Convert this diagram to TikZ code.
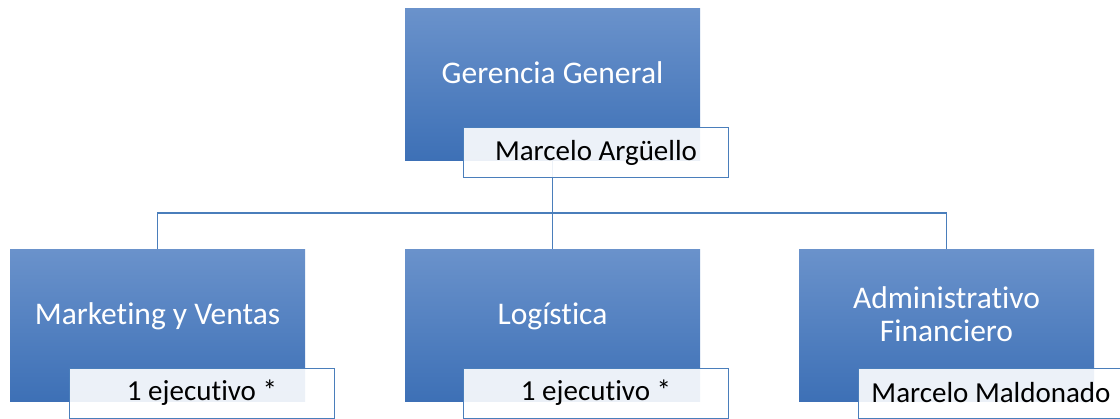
\documentclass[tikz,border=0pt]{standalone}
\usepackage{fontspec}
\setmainfont[Ligatures={NoCommon}]{Carlito}
\usetikzlibrary{positioning}
\definecolor{boxtop}{RGB}{106,146,203}
\definecolor{boxbot}{RGB}{61,112,182}
\definecolor{edge}{RGB}{74,126,187}

\begin{document}
\begin{tikzpicture}[x=1pt,y=-1pt,
  unit/.style={minimum width=295pt,minimum height=152pt,inner sep=0pt,
    top color=boxtop,bottom color=boxbot},
  title/.style={text=white,font=\fontsize{31.5}{33}\selectfont,align=center},
  tag/.style={draw=edge,line width=0.8pt,fill=white,fill opacity=0.9,
    text opacity=1,minimum width=265pt,minimum height=50pt,inner sep=0pt,
    font=\fontsize{29}{32}\selectfont},
  link/.style={draw=edge,line width=1.2pt}]
\useasboundingbox (0,0) rectangle (1120,419);
\clip (0,0) rectangle (1120,419);
% units
\node[unit] (gg) at (552.5,85) {};
\node[unit] (mv) at (157.5,325.5) {};
\node[unit] (log) at (552.5,325.5) {};
\node[unit] (adm) at (946.5,325.5) {};
\node[title,yshift=12pt] (gg-t) at (gg) {Gerencia General};
\node[title,yshift=9pt] (mv-t) at (mv) {Marketing y Ventas};
\node[title,yshift=9pt] (log-t) at (log) {Logística};
\node[title,yshift=11pt] (adm-t) at (adm) {Administrativo\\Financiero};
% lines
\coordinate (bus) at (552.5,213);
\draw[link] (gg.south) -- (bus);
\draw[link] (bus) -| (mv.north);
\draw[link] (bus) -| (adm.north);
\draw[link] (bus) -- (log.north);
% people
\node[tag] (gg-p) at (596,152.5) {Marcelo Argüello};
\node[tag] (mv-p) at (202,393) {1 ejecutivo *};
\node[tag] (log-p) at (596,393) {1 ejecutivo *};
\node[tag] (adm-p) at (991,393) {Marcelo Maldonado};
\end{tikzpicture}
\end{document}
